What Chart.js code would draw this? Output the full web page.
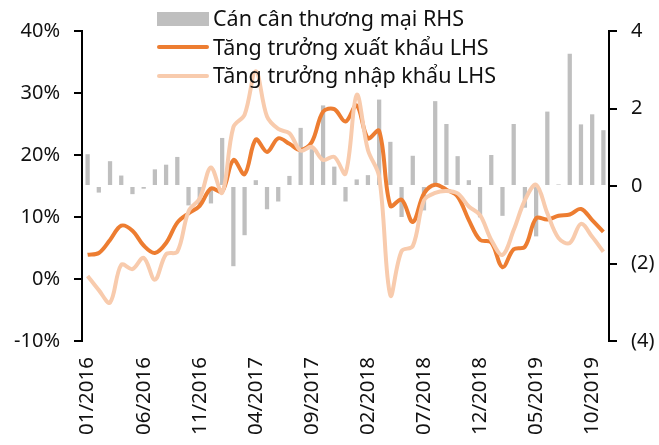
<!DOCTYPE html>
<html>
<head>
<meta charset="utf-8">
<script src="https://cdn.jsdelivr.net/npm/chart.js@4.4.1/dist/chart.umd.min.js"></script>
<style>
  html, body { margin: 0; padding: 0; background: #fff; }
  canvas { display: block; }
</style>
</head>
<body>
<canvas id="tradeChart" width="659" height="445"></canvas>
<script>
// ====== Data ======
const MONTHS = [];
for (let y = 2016; y <= 2019; y++) {
  for (let m = 1; m <= 12; m++) {
    if (y === 2019 && m > 11) break;
    MONTHS.push(String(m).padStart(2, '0') + '/' + y);
  }
}

// Cán cân thương mại (RHS)
const TRADE_BALANCE = [
  0.82, -0.17, 0.64, 0.27, -0.21, -0.07, 0.43, 0.55, 0.75, -0.5,
  -0.5, -0.45, 1.24, -2.07, -1.27, 0.15, -0.6, -0.4, 0.26, 1.5,
  0.95, 2.08, 0.5, -0.4, 0.17, 0.28, 2.23, 1.14, -0.8, 0.78,
  -0.63, 2.19, 1.6, 0.77, 0.15, -0.81, 0.8, -0.77, 1.6, -0.56,
  -1.3, 1.92, 0.04, 3.41, 1.59, 1.85, 1.44
];

// Tăng trưởng xuất khẩu (LHS, %)
const EXPORT_GROWTH = [
  3.9, 4.2, 6.3, 8.6, 7.8, 5.4, 4.2, 5.8, 9.1, 10.6,
  11.8, 14.6, 14.1, 19.2, 16.9, 22.5, 20.5, 22.7, 21.8, 20.8,
  22.1, 27.0, 27.4, 25.4, 28.0, 22.7, 23.9, 11.8, 12.8, 9.2,
  13.8, 15.2, 14.4, 13.3, 9.5, 6.3, 5.9, 1.9, 4.8, 5.2,
  9.8, 9.6, 10.2, 10.4, 11.3, 9.5, 7.6
];

// Tăng trưởng nhập khẩu (LHS, %)
const IMPORT_GROWTH = [
  0.5, -1.8, -3.8, 2.3, 1.6, 3.4, -0.1, 4.0, 4.4, 10.9,
  13.0, 18.0, 13.9, 24.5, 26.5, 33.5, 26.2, 24.2, 23.5, 20.7,
  21.3, 19.2, 19.7, 17.0, 29.7, 20.8, 16.5, -2.6, 4.5, 5.3,
  12.7, 13.9, 14.2, 13.8, 11.7, 10.3, 6.3, 3.9, 7.9, 12.7,
  15.2, 10.6, 6.6, 5.8, 8.9, 6.8, 4.4
];

const LEFT_TICKS = { min: -10, max: 40, step: 10 };
const RIGHT_TICKS = { min: -4, max: 4, step: 2 };

const LEGEND_LABELS = [
  'Cán cân thương mại RHS',
  'Tăng trưởng xuất khẩu LHS',
  'Tăng trưởng nhập khẩu LHS'
];

// ====== Styles ======
const BAR_COLOR = '#BFBFBF';
const EXPORT_COLOR = '#ED7D31';
const IMPORT_COLOR = '#F8CBAD';
const TEXT_COLOR = '#111';
const FONT_FAMILY = '"Noto Sans", "Open Sans", sans-serif';

// legend drawn by hand, sits over the plot like the original
const legendPlugin = {
  id: 'manualLegend',
  afterDraw(chart) {
    const ctx = chart.ctx;
    ctx.save();
    ctx.fillStyle = BAR_COLOR;
    ctx.fillRect(157, 12, 52, 14);

    ctx.lineWidth = 4;
    ctx.lineCap = 'round';
    ctx.strokeStyle = EXPORT_COLOR;
    ctx.beginPath(); ctx.moveTo(159, 47); ctx.lineTo(207, 47); ctx.stroke();
    ctx.strokeStyle = IMPORT_COLOR;
    ctx.beginPath(); ctx.moveTo(159, 76); ctx.lineTo(207, 76); ctx.stroke();

    ctx.fillStyle = TEXT_COLOR;
    ctx.font = '21.5px ' + FONT_FAMILY;
    ctx.textBaseline = 'alphabetic';
    ctx.textAlign = 'left';
    const baselines = [26, 54.5, 83];
    LEGEND_LABELS.forEach((t, i) => ctx.fillText(t, 213, baselines[i]));
    ctx.restore();
  }
};

const tickFont = { family: FONT_FAMILY, size: 20 };

const ctx = document.getElementById('tradeChart').getContext('2d');
new Chart(ctx, {
  type: 'bar',
  data: {
    labels: MONTHS,
    datasets: [
      {
        type: 'line',
        label: LEGEND_LABELS[2],
        data: IMPORT_GROWTH,
        yAxisID: 'y',
        borderColor: IMPORT_COLOR,
        borderWidth: 4,
        pointRadius: 0,
        tension: 0.35,
        fill: false,
        order: 1
      },
      {
        type: 'line',
        label: LEGEND_LABELS[1],
        data: EXPORT_GROWTH,
        yAxisID: 'y',
        borderColor: EXPORT_COLOR,
        borderWidth: 4,
        pointRadius: 0,
        tension: 0.35,
        fill: false,
        order: 2
      },
      {
        type: 'bar',
        label: LEGEND_LABELS[0],
        data: TRADE_BALANCE,
        yAxisID: 'y1',
        backgroundColor: BAR_COLOR,
        barPercentage: 0.38,
        categoryPercentage: 1,
        order: 3
      }
    ]
  },
  options: {
    responsive: false,
    animation: false,
    layout: { padding: { top: 31, left: 0, right: 0, bottom: 0 } },
    plugins: {
      legend: { display: false },
      tooltip: { enabled: false }
    },
    scales: {
      x: {
        grid: { display: false, drawTicks: false },
        border: { display: false },
        ticks: {
          autoSkip: false,
          minRotation: 90,
          maxRotation: 90,
          padding: 16,
          color: TEXT_COLOR,
          font: { family: FONT_FAMILY, size: 20.5 },
          callback: function (v, i) { return i % 5 === 0 ? this.getLabelForValue(v) : ''; }
        },
        afterFit: s => { s.height = 104; }
      },
      y: {
        position: 'left',
        min: LEFT_TICKS.min,
        max: LEFT_TICKS.max,
        grid: { drawOnChartArea: false, drawTicks: true, tickLength: 8, color: '#000', lineWidth: 2 },
        border: { color: '#000', width: 2 },
        ticks: {
          stepSize: LEFT_TICKS.step,
          padding: 14,
          color: TEXT_COLOR,
          font: tickFont,
          callback: v => v + '%'
        },
        afterFit: s => { s.width = 82; }
      },
      y1: {
        position: 'right',
        min: RIGHT_TICKS.min,
        max: RIGHT_TICKS.max,
        grid: { drawOnChartArea: false, drawTicks: true, tickLength: 8, color: '#000', lineWidth: 2 },
        border: { color: '#000', width: 2 },
        ticks: {
          stepSize: RIGHT_TICKS.step,
          padding: 14,
          color: TEXT_COLOR,
          font: tickFont,
          callback: v => v < 0 ? '(' + Math.abs(v) + ')' : String(v)
        },
        afterFit: s => { s.width = 50; }
      }
    }
  },
  plugins: [legendPlugin]
});
</script>
</body>
</html>
